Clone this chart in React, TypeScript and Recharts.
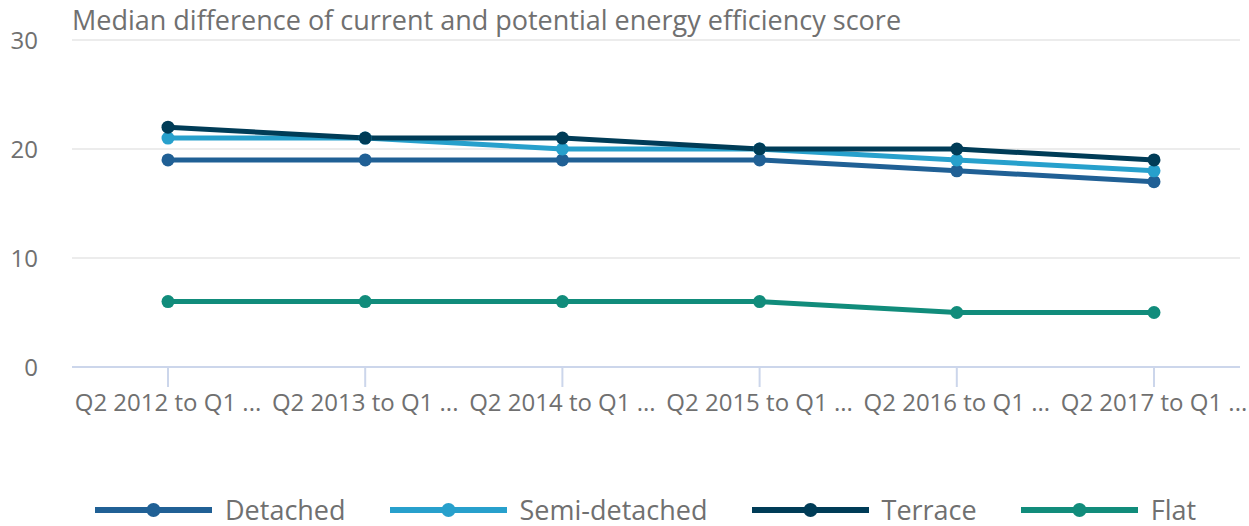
import { LineChart, Line, XAxis, YAxis, CartesianGrid } from 'recharts';

const periods = [
  'Q2 2012 to Q1 ...',
  'Q2 2013 to Q1 ...',
  'Q2 2014 to Q1 ...',
  'Q2 2015 to Q1 ...',
  'Q2 2016 to Q1 ...',
  'Q2 2017 to Q1 ...',
];
const detached = [19, 19, 19, 19, 18, 17];
const semiDetached = [21, 21, 20, 20, 19, 18];
const terrace = [22, 21, 21, 20, 20, 19];
const flat = [6, 6, 6, 6, 5, 5];
const yTicks = [0, 10, 20, 30];

const series = [
  { key: 'detached', name: 'Detached', color: '#206095' },
  { key: 'semi', name: 'Semi-detached', color: '#27a0cc' },
  { key: 'terrace', name: 'Terrace', color: '#003c57' },
  { key: 'flat', name: 'Flat', color: '#118c7b' },
];

const data = periods.map((period, i) => ({
  period,
  detached: detached[i],
  semi: semiDetached[i],
  terrace: terrace[i],
  flat: flat[i],
}));

const FONT = '"Open Sans", sans-serif';
const TEXT = '#707070';

function LegendRow() {
  return (
    <div style={{ position: 'absolute', left: 95, top: 494, height: 31, display: 'flex', alignItems: 'center', gap: 44 }}>
      {series.map((s) => (
        <div key={s.key} style={{ display: 'flex', alignItems: 'center', gap: 13 }}>
          <svg width={117} height={16}>
            <line x1={0} y1={8} x2={117} y2={8} stroke={s.color} strokeWidth={6} />
            <circle cx={58.5} cy={8} r={7} fill={s.color} />
          </svg>
          <span style={{ fontSize: 27, lineHeight: '31px', color: TEXT, whiteSpace: 'nowrap' }}>{s.name}</span>
        </div>
      ))}
    </div>
  );
}

export default function App() {
  return (
    <div style={{ position: 'relative', width: 1249, height: 526, fontFamily: FONT, overflow: 'hidden' }}>
      <style>{'body{margin:0}'}</style>
      <div style={{ position: 'absolute', left: 72, top: 0, fontSize: 27, lineHeight: '40px', color: TEXT, whiteSpace: 'nowrap', zIndex: 1 }}>
        Median difference of current and potential energy efficiency score
      </div>
      <LineChart width={1249} height={440} data={data} margin={{ top: 40, right: 9, left: 0, bottom: 0 }}>
        <CartesianGrid vertical={false} stroke="#e6e6e6" strokeWidth={1.5} />
        <XAxis
          dataKey="period"
          interval={0}
          padding={{ left: 96, right: 86 }}
          height={73}
          tickSize={20}
          tickMargin={7}
          tick={{ fontSize: 24, fill: TEXT, fontFamily: FONT }}
          axisLine={{ stroke: '#ccd6eb', strokeWidth: 2 }}
          tickLine={{ stroke: '#ccd6eb', strokeWidth: 2 }}
        />
        <YAxis
          width={72}
          domain={[0, 30]}
          ticks={yTicks}
          axisLine={false}
          tickLine={false}
          tickSize={0}
          tickMargin={34}
          tick={{ fontSize: 24, fill: TEXT, fontFamily: FONT }}
        />
        {series.map((s) => (
          <Line
            key={s.key}
            dataKey={s.key}
            name={s.name}
            stroke={s.color}
            strokeWidth={5}
            dot={{ r: 6.5, fill: s.color, stroke: 'none' }}
            activeDot={false}
            isAnimationActive={false}
          />
        ))}
      </LineChart>
      <LegendRow />
    </div>
  );
}
